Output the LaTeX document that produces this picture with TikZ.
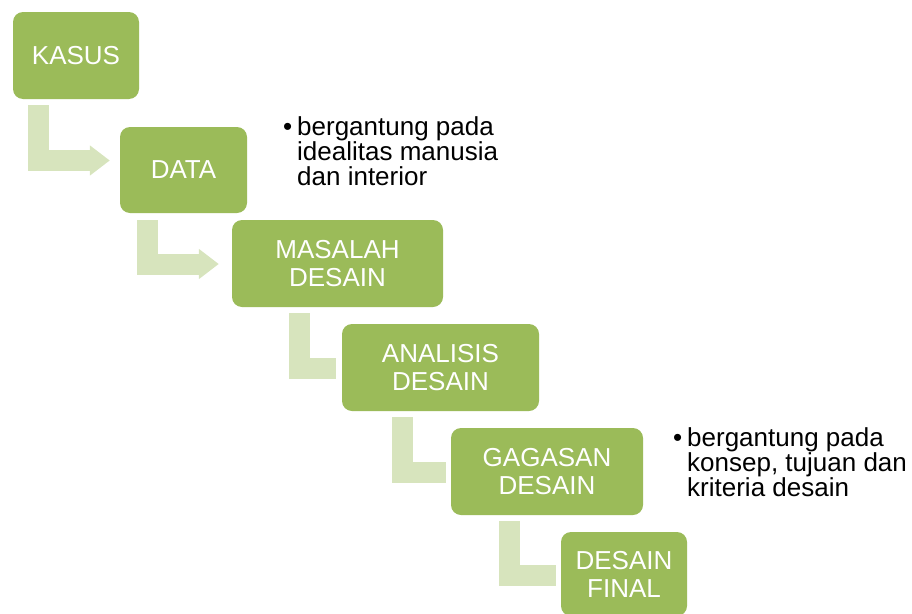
\documentclass[tikz,border=0pt]{standalone}
\usepackage{fontspec}
\setmainfont{Liberation Sans}
\usetikzlibrary{arrows.meta,calc}
\definecolor{boxgreen}{HTML}{9BBB59}
\definecolor{connlight}{HTML}{D7E4BD}
\begin{document}
\begin{tikzpicture}[x=1pt,y=-1pt,
  stepbox/.style={fill=boxgreen,draw=none,rounded corners=10pt,inner sep=0pt,
    text=white,align=center,font=\fontsize{26}{28}\selectfont},
  conn/.style={draw=connlight,line width=21pt,line join=miter,line cap=butt},
  connarrow/.style={conn,-{Triangle[length=20pt,width=29pt]}},
  note/.style={anchor=base west,inner sep=0pt,text=black,font=\fontsize{26}{25}\selectfont}
]
\useasboundingbox (0,0) rectangle (912,613);
\clip (0,0) rectangle (912,613);
\node[stepbox,minimum width=126pt,minimum height=87pt] (kasus) at (76,55.5) {KASUS};
\node[stepbox,minimum width=127pt,minimum height=86pt] (data) at (183.5,170) {DATA};
\node[stepbox,minimum width=211pt,minimum height=87pt] (masalah) at (337.5,263.5) {MASALAH\\DESAIN};
\node[stepbox,minimum width=197pt,minimum height=87pt] (analisis) at (440.5,367.5) {ANALISIS\\DESAIN};
\node[stepbox,minimum width=192pt,minimum height=87pt] (gagasan) at (547,471.5) {GAGASAN\\DESAIN};
\node[stepbox,minimum width=126pt,minimum height=84pt] (final) at (624,574) {DESAIN\\FINAL};
\draw[connarrow] ([shift={(25.5,6)}]kasus.south west) |- ([shift={(-10,-9.5)}]data.west);
\draw[connarrow] ([shift={(28,7)}]data.south west) |- ([shift={(-13,0.5)}]masalah.west);
\draw[conn] ([shift={(68,6)}]masalah.south west) |- ([shift={(-6,0.5)}]analisis.west);
\draw[conn] ([shift={(60.5,6)}]analisis.south west) |- ([shift={(-5,1)}]gagasan.west);
\draw[conn] ([shift={(59,6)}]gagasan.south west) |- ([shift={(-5,1.5)}]final.west);
\node[note] (note1) at (297,135) {\parbox[t]{260pt}{\raggedright\leavevmode\llap{\textbullet\hspace{5pt}}bergantung pada\\idealitas manusia\\dan interior}};
\node[note] (note2) at (687,446) {\parbox[t]{240pt}{\raggedright\leavevmode\llap{\textbullet\hspace{5pt}}bergantung pada\\konsep, tujuan dan\\kriteria desain}};
\end{tikzpicture}
\end{document}
